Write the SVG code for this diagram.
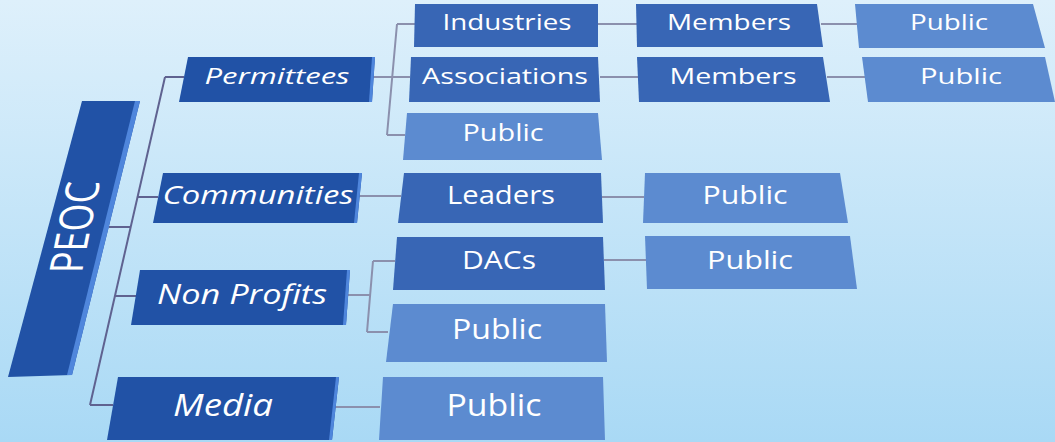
<svg xmlns="http://www.w3.org/2000/svg" width="1055" height="442" viewBox="0 0 1055 442">
<defs>
<linearGradient id="bg" x1="0" y1="0" x2="0" y2="1">
<stop offset="0" stop-color="#def0fb"/>
<stop offset="1" stop-color="#a9d9f5"/>
</linearGradient>
<style>
.d{fill:#2152a6}
.m{fill:#3866b5}
.l{fill:#5c8bd0}
.edge{fill:#4f86dc}
text{font-family:"Open Sans","Liberation Sans",sans-serif;fill:#ffffff;text-anchor:middle}
.it{font-style:italic}
.c{fill:none;stroke:#8b90ad;stroke-width:2}
.ct{fill:none;stroke:#5f6290;stroke-width:2}
</style>
</defs>
<rect width="1055" height="442" fill="url(#bg)"/>
<g id="connectors">
<path class="ct" d="M165,77 L90,405"/>
<path class="ct" d="M165,77 H184 M138,197 H158 M109,227 H131 M115,296 H136 M90,405 H113"/>
<path class="c" d="M373,77 H392 M397,24 L387,135 M397,24 H415 M392,77 H410 M387,135 H405"/>
<path class="c" d="M598,24 H637 M821,24 H857 M600,77 H638 M827,77 H865"/>
<path class="c" d="M358,196 H401 M602,197 H644"/>
<path class="c" d="M347,295 H370 M373,261 L367,332 M373,261 H395 M367,332 H388"/>
<path class="c" d="M604,260 H646 M333,407 H380"/>
</g>
<g id="peoc">
<polygon class="d" points="82,101 140,101 72,375 8,377"/>
<polygon class="edge" points="135,101 140,101 72,375 67,375"/>
<text transform="matrix(0.2,-1,1,0,91,227)" font-size="46" textLength="92" lengthAdjust="spacingAndGlyphs">PEOC</text>
</g>
<g id="permittees">
<polygon class="d" points="188,57 375,57 372,102 179,102"/>
<polygon class="edge" points="372,57 375,57 372,102 369,102"/>
<text class="it" x="277" y="84" font-size="22" textLength="145" lengthAdjust="spacingAndGlyphs">Permittees</text>
</g>
<g id="industries">
<polygon class="m" points="415,4 598,4 598,47 414,47"/>
<text x="507" y="30" font-size="21" textLength="129" lengthAdjust="spacingAndGlyphs">Industries</text>
</g>
<g id="associations">
<polygon class="m" points="411,57 598,57 600,102 409,102"/>
<text x="505" y="84" font-size="22" textLength="166" lengthAdjust="spacingAndGlyphs">Associations</text>
</g>
<g id="public-permittees">
<polygon class="l" points="407,113 598,113 602,160 403,160"/>
<text x="503" y="141" font-size="23" textLength="81" lengthAdjust="spacingAndGlyphs">Public</text>
</g>
<g id="members-1">
<polygon class="m" points="636,4 817,4 823,47 637,47"/>
<text x="729" y="30" font-size="21" textLength="124" lengthAdjust="spacingAndGlyphs">Members</text>
</g>
<g id="public-1">
<polygon class="l" points="855,4 1033,4 1045,48 859,48"/>
<text x="949" y="30" font-size="21" textLength="78" lengthAdjust="spacingAndGlyphs">Public</text>
</g>
<g id="members-2">
<polygon class="m" points="637,57 823,57 830,102 639,102"/>
<text x="733" y="84" font-size="22" textLength="127" lengthAdjust="spacingAndGlyphs">Members</text>
</g>
<g id="public-2">
<polygon class="l" points="862,57 1045,57 1055,102 868,102"/>
<text x="961" y="84" font-size="22" textLength="82" lengthAdjust="spacingAndGlyphs">Public</text>
</g>
<g id="communities">
<polygon class="d" points="163,173 362,173 357,223 153,223"/>
<polygon class="edge" points="359,173 362,173 357,223 354,223"/>
<text class="it" x="258" y="204" font-size="25" textLength="191" lengthAdjust="spacingAndGlyphs">Communities</text>
</g>
<g id="leaders">
<polygon class="m" points="404,173 601,173 603,223 398,223"/>
<text x="501" y="204" font-size="25" textLength="108" lengthAdjust="spacingAndGlyphs">Leaders</text>
</g>
<g id="public-leaders">
<polygon class="l" points="645,173 840,173 848,223 643,223"/>
<text x="745" y="204" font-size="25" textLength="85" lengthAdjust="spacingAndGlyphs">Public</text>
</g>
<g id="non-profits">
<polygon class="d" points="140,270 350,270 346,325 131,325"/>
<polygon class="edge" points="347,270 350,270 346,325 343,325"/>
<text class="it" x="242" y="304" font-size="28" textLength="170" lengthAdjust="spacingAndGlyphs">Non Profits</text>
</g>
<g id="dacs">
<polygon class="m" points="397,237 603,237 605,290 393,290"/>
<text x="499" y="269" font-size="26" textLength="74" lengthAdjust="spacingAndGlyphs">DACs</text>
</g>
<g id="public-dacs">
<polygon class="l" points="645,236 850,236 857,289 647,289"/>
<text x="750" y="269" font-size="26" textLength="86" lengthAdjust="spacingAndGlyphs">Public</text>
</g>
<g id="public-nonprofits">
<polygon class="l" points="393,304 605,304 607,362 386,362"/>
<text x="497" y="339" font-size="28" textLength="90" lengthAdjust="spacingAndGlyphs">Public</text>
</g>
<g id="media">
<polygon class="d" points="118,377 339,377 332,440 107,440"/>
<polygon class="edge" points="336,377 339,377 332,440 329,440"/>
<text class="it" x="223" y="416" font-size="31" textLength="100" lengthAdjust="spacingAndGlyphs">Media</text>
</g>
<g id="public-media">
<polygon class="l" points="383,377 603,377 605,440 379,440"/>
<text x="494" y="416" font-size="31" textLength="95" lengthAdjust="spacingAndGlyphs">Public</text>
</g>
</svg>
